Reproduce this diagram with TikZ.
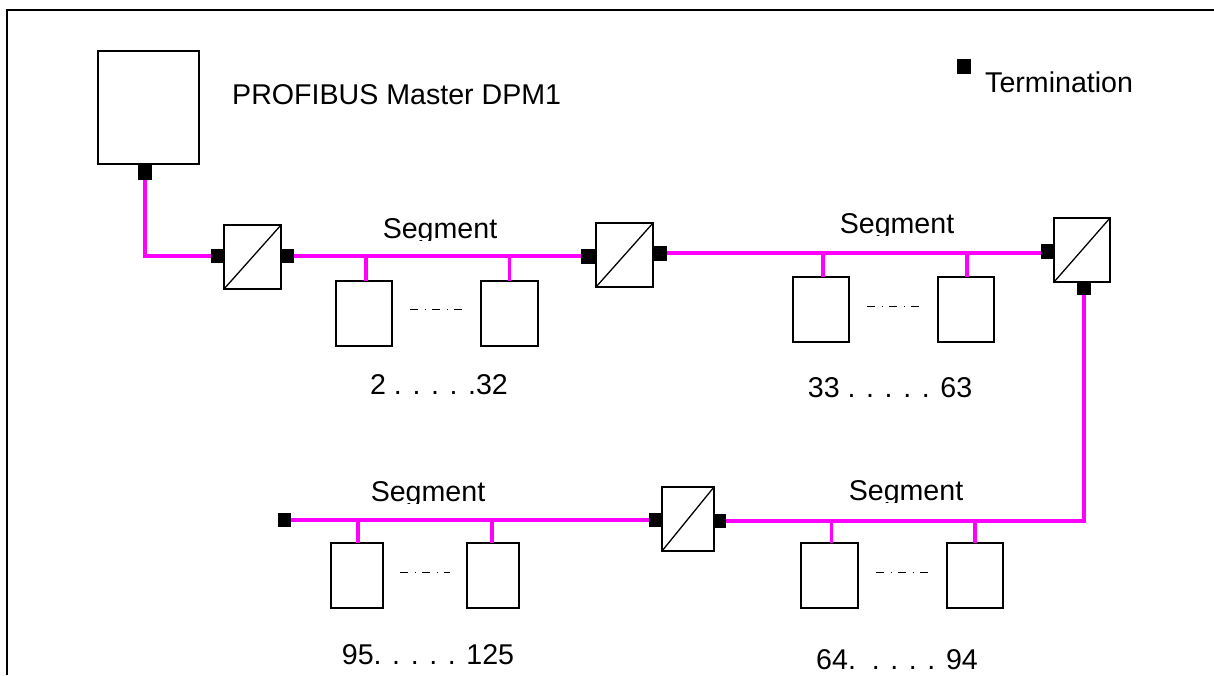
\documentclass[tikz,border=0pt]{standalone}
\usepackage{fontspec}
\setmainfont{Liberation Sans}
\definecolor{bus}{RGB}{255,0,255}
\begin{document}
\begin{tikzpicture}[x=1pt,y=-1pt,
  box/.style={draw, line width=1.3pt, inner sep=0pt, outer sep=0pt, fill=white},
  term/.style={fill=black, inner sep=0pt, outer sep=0pt},
  busline/.style={draw=bus, line width=3.2pt},
  dotdash/.style={draw=black, line width=1.1pt, dash pattern=on 8pt off 7pt on 1.2pt off 6pt},
  lbl/.style={font=\fontsize{28.6}{34}\selectfont, inner sep=0pt, anchor=base}]
\useasboundingbox (0,0) rectangle (1214,675);
% frame
\draw[line width=1.3pt] (7,675) -- (7,10) -- (1214,10);

% master
\node[box, minimum width=101, minimum height=113] (master) at (148.5,107.5) {};
\node[term, minimum width=14, minimum height=16] (tM) at (145,172) {};
\node[lbl, anchor=base west] (mlabel) at (232,104) {PROFIBUS Master DPM1};

% legend
\node[term, minimum width=14, minimum height=15] (tLeg) at (964,66.5) {};
\node[lbl, anchor=base west] (leglabel) at (985,92) {Termination};

% repeaters
\node[box, minimum width=57, minimum height=64] (r1) at (252.5,257) {};
\node[box, minimum width=57, minimum height=64] (r2) at (624.5,255) {};
\node[box, minimum width=56, minimum height=64] (r3) at (1082,250) {};
\node[box, minimum width=52, minimum height=64] (r4) at (688,519) {};
\foreach \r in {r1,r2,r3,r4} \draw[line width=1.3pt] (\r.south west) -- (\r.north east);

% terminations
\node[term, minimum width=13, minimum height=14] (t1L) at (217.5,256) {};
\node[term, minimum width=13, minimum height=14] (t1R) at (287,256) {};
\node[term, minimum width=15, minimum height=15] (t2L) at (588.5,256) {};
\node[term, minimum width=14, minimum height=15] (t2R) at (660,253) {};
\node[term, minimum width=13, minimum height=15] (t3L) at (1047.5,251) {};
\node[term, minimum width=14, minimum height=13] (t3B) at (1084,288.5) {};
\node[term, minimum width=12, minimum height=14] (t4R) at (720,521) {};
\node[term, minimum width=13, minimum height=14] (t4L) at (655.5,520) {};
\node[term, minimum width=13, minimum height=14] (tEnd) at (284.5,520) {};

% devices
\node[box, minimum width=56, minimum height=65] (d1a) at (364,313.5) {};
\node[box, minimum width=57, minimum height=65] (d1b) at (509.5,313.5) {};
\node[box, minimum width=56, minimum height=65] (d2a) at (821,309.5) {};
\node[box, minimum width=56, minimum height=65] (d2b) at (966,309.5) {};
\node[box, minimum width=52, minimum height=65] (d4a) at (357,575.5) {};
\node[box, minimum width=52, minimum height=65] (d4b) at (493,575.5) {};
\node[box, minimum width=57, minimum height=65] (d3a) at (829.5,575.5) {};
\node[box, minimum width=56, minimum height=65] (d3b) at (975,575.5) {};

% bus lines
\draw[busline] (tM.south) |- (t1L.west);
\draw[busline] (t1R.east) -- (t2L.west);
\draw[busline] (t2R.east) -- (t2R.east -| t3L.west);
\draw[busline] (t3B.south) |- (t4R.east);
\draw[busline] (t4L.west) -- (tEnd.east);

% stubs
\draw[busline] ([xshift=2]d1a.north) -- ([xshift=2]d1a.north |- t1R.east);
\draw[busline] (d1b.north) -- (d1b.north |- t1R.east);
\draw[busline] ([xshift=2]d2a.north) -- ([xshift=2]d2a.north |- t2R.east);
\draw[busline] ([xshift=1]d2b.north) -- ([xshift=1]d2b.north |- t2R.east);
\draw[busline] ([xshift=1]d4a.north) -- ([xshift=1]d4a.north |- tEnd.east);
\draw[busline] ([xshift=-1]d4b.north) -- ([xshift=-1]d4b.north |- tEnd.east);
\draw[busline] ([xshift=2]d3a.north) -- ([xshift=2]d3a.north |- t4R.east);
\draw[busline] (d3b.north) -- (d3b.north |- t4R.east);

% ellipses between devices
\draw[dotdash] ([shift={(18,-4)}]d1a.east) -- ([shift={(-19,-4)}]d1b.west);
\draw[dotdash] ([shift={(18,-3)}]d2a.east) -- ([shift={(-19,-3)}]d2b.west);
\draw[dotdash] ([shift={(17,-3)}]d4a.east) -- ([shift={(-17,-3)}]d4b.west);
\draw[dotdash] ([shift={(18,-3)}]d3a.east) -- ([shift={(-19,-3)}]d3b.west);

% segment labels (clipped at the bottom as in the original)
\begin{scope}\clip (360,200) rectangle (520,240);
\node[lbl] (s1) at (440,238) {Segment};\end{scope}
\begin{scope}\clip (820,195) rectangle (975,235);
\node[lbl] (s2) at (897,233) {Segment};\end{scope}
\begin{scope}\clip (350,463) rectangle (505,503);
\node[lbl] (s4) at (428,501) {Segment};\end{scope}
\begin{scope}\clip (830,462) rectangle (985,502);
\node[lbl] (s3) at (906,500) {Segment};\end{scope}

% address ranges
\node[lbl] (n1) at (439,394) {2 . . . . .32};
\node[lbl] (n2) at (890,397) {33 . . . . . 63};
\node[lbl] (n4) at (428,664) {95. . . . . 125};
\node[lbl] (n3) at (897,669) {64.\ \ . . . . 94};
\end{tikzpicture}
\end{document}
